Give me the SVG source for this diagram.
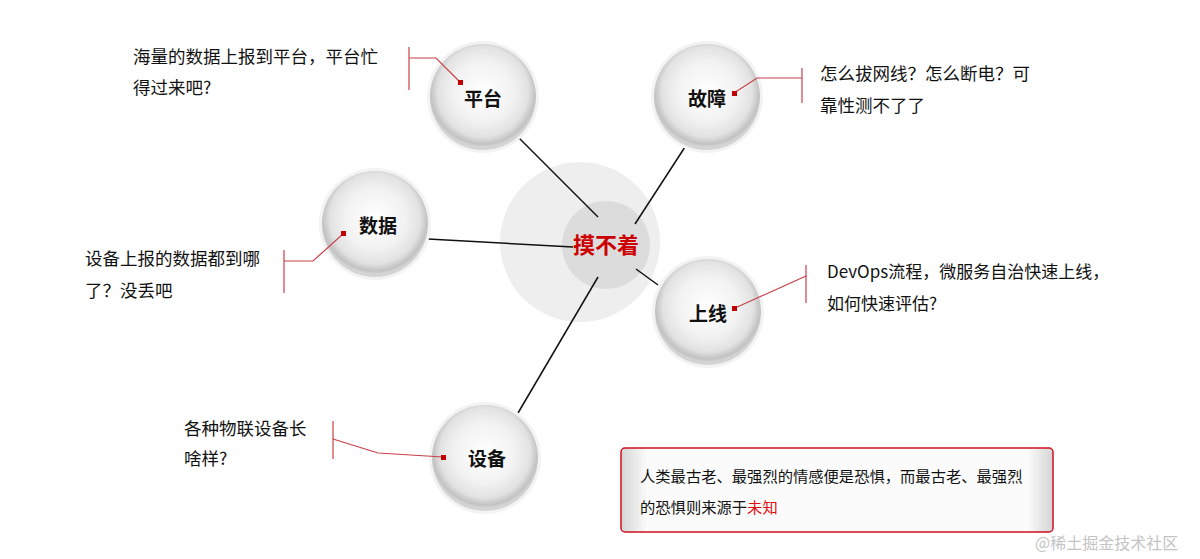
<svg xmlns="http://www.w3.org/2000/svg" width="1200" height="559" viewBox="0 0 1200 559">
<defs>
<radialGradient id="sphere" cx="50%" cy="45%" r="52%">
<stop offset="0" stop-color="#ffffff"/>
<stop offset="0.55" stop-color="#f2f2f2"/>
<stop offset="0.82" stop-color="#e2e2e2"/>
<stop offset="0.95" stop-color="#c2c2c2"/>
<stop offset="1" stop-color="#d4d4d4"/>
</radialGradient>
<linearGradient id="boxg" x1="0" y1="0" x2="1" y2="0">
<stop offset="0" stop-color="#d4d4d4"/>
<stop offset="0.06" stop-color="#fbfbfb"/>
<stop offset="0.94" stop-color="#fbfbfb"/>
<stop offset="1" stop-color="#d4d4d4"/>
</linearGradient>
</defs>
<style>
.t{font-family:"Microsoft YaHei","Noto Sans CJK SC","Liberation Sans",sans-serif;font-size:17.5px;fill:#111}
.n{font-family:"Noto Sans CJK SC",sans-serif;font-size:19px;font-weight:bold;fill:#111;text-anchor:middle}
.halo{fill:#f3f3f3}
.sph{fill:url(#sphere)}
.con{stroke:#111;stroke-width:1.5;fill:none}
.call{stroke:#c8404a;stroke-width:1.2;fill:none}
.dot{fill:#c00000}
</style>
<rect width="1200" height="559" fill="#ffffff"/>
<g id="center">
<circle cx="580" cy="242" r="80" fill="#eeeeee"/>
<circle cx="606" cy="245" r="44" fill="#dcdcdc"/>
</g>
<g id="connectors">
<line class="con" x1="518" y1="137" x2="598" y2="217"/>
<line class="con" x1="685" y1="147" x2="635" y2="224"/>
<line class="con" x1="428" y1="239" x2="573" y2="247"/>
<line class="con" x1="636" y1="269" x2="658" y2="285"/>
<line class="con" x1="598" y1="277" x2="518" y2="413"/>
</g>
<g id="center-label">
<text x="606" y="253" font-family="Noto Sans CJK SC,sans-serif" font-size="22" font-weight="bold" fill="#cc0000" text-anchor="middle">摸不着</text>
</g>
<g id="node-pingtai">
<circle class="halo" cx="483" cy="97" r="56"/>
<circle class="sph" cx="483" cy="97" r="53"/>
<text class="n" x="483" y="106">平台</text>
</g>
<g id="node-guzhang">
<circle class="halo" cx="707" cy="97" r="56"/>
<circle class="sph" cx="707" cy="97" r="53"/>
<text class="n" x="707" y="106">故障</text>
</g>
<g id="node-shuju">
<circle class="halo" cx="375" cy="224" r="56"/>
<circle class="sph" cx="375" cy="224" r="53"/>
<text class="n" x="378" y="233">数据</text>
</g>
<g id="node-shangxian">
<circle class="halo" cx="708" cy="312" r="56"/>
<circle class="sph" cx="708" cy="312" r="53"/>
<text class="n" x="708" y="321">上线</text>
</g>
<g id="node-shebei">
<circle class="halo" cx="485" cy="458" r="56"/>
<circle class="sph" cx="485" cy="458" r="53"/>
<text class="n" x="487" y="466">设备</text>
</g>
<g id="callout-pingtai">
<line class="call" x1="409" y1="47" x2="409" y2="90"/>
<polyline class="call" points="409,58 436,58 460,82"/>
<rect class="dot" x="458" y="80" width="5" height="5"/>
<text class="t" x="133" y="63">海量的数据上报到平台，平台忙</text>
<text class="t" x="133" y="94">得过来吧?</text>
</g>
<g id="callout-guzhang">
<line class="call" x1="802" y1="68" x2="802" y2="103"/>
<polyline class="call" points="802,78 757,78 734,93"/>
<rect class="dot" x="732" y="91" width="5" height="5"/>
<text class="t" x="820" y="80">怎么拔网线？怎么断电？可</text>
<text class="t" x="820" y="112">靠性测不了了</text>
</g>
<g id="callout-shuju">
<line class="call" x1="284" y1="250" x2="284" y2="293"/>
<polyline class="call" points="284,261 313,261 344,233"/>
<rect class="dot" x="341" y="231" width="5" height="5"/>
<text class="t" x="85" y="265">设备上报的数据都到哪</text>
<text class="t" x="85" y="297">了？没丢吧</text>
</g>
<g id="callout-shangxian">
<line class="call" x1="806" y1="265" x2="806" y2="303"/>
<polyline class="call" points="806,276 735,308"/>
<rect class="dot" x="732" y="306" width="5" height="5"/>
<text class="t" x="827" y="278" style="font-size:17px">DevOps流程，微服务自治快速上线，</text>
<text class="t" x="827" y="310" style="font-size:17px">如何快速评估?</text>
</g>
<g id="callout-shebei">
<line class="call" x1="333" y1="421" x2="333" y2="459"/>
<polyline class="call" points="333,439 378,453 443,457"/>
<rect class="dot" x="441" y="455" width="5" height="5"/>
<text class="t" x="184" y="435">各种物联设备长</text>
<text class="t" x="184" y="465">啥样?</text>
</g>
<g id="quote">
<rect x="621" y="448" width="432" height="84" rx="4" fill="url(#boxg)" stroke="#d01020" stroke-width="1.5"/>
<text class="t" x="640" y="482" style="font-size:15.3px">人类最古老、最强烈的情感便是恐惧，而最古老、最强烈</text>
<text class="t" x="640" y="513" style="font-size:15.3px">的恐惧则来源于<tspan fill="#e01010">未知</tspan></text>
</g>
<text x="1035" y="549" font-family="Noto Sans CJK SC,sans-serif" font-size="16" fill="#c4c4c4">@稀土掘金技术社区</text>
</svg>
